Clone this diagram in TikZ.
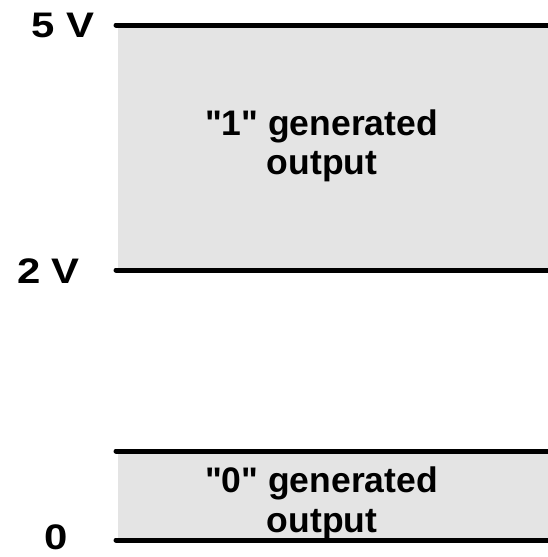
\documentclass[tikz,border=0pt]{standalone}
\usepackage{fontspec}
\setmainfont{Liberation Sans}[Ligatures=TeXOff]
\definecolor{bandgray}{HTML}{E4E4E4}
\newcommand{\widelbl}[1]{\scalebox{1.18}[1]{#1}}
\tikzset{
  level/.style={line width=5pt, line cap=round},
  band/.style={fill=bandgray, draw=none},
  lbl/.style={font=\bfseries\fontsize{35.5}{40}\selectfont, inner sep=0pt, anchor=base},
}
\begin{document}
\begin{tikzpicture}[x=1pt,y=-1pt]
\useasboundingbox (0,0) rectangle (547,557);
% bands
\fill[band] (118,25) rectangle (560,270);
\fill[band] (118,451) rectangle (560,540);
% level lines
\coordinate (l5a) at (116,25);   \coordinate (l5b) at (560,25);
\coordinate (l2a) at (116,270);  \coordinate (l2b) at (560,270);
\coordinate (l0ta) at (116,451); \coordinate (l0tb) at (560,451);
\coordinate (l0a) at (116,540);  \coordinate (l0b) at (560,540);
\draw[level] (l5a) -- (l5b);
\draw[level] (l2a) -- (l2b);
\draw[level] (l0ta) -- (l0tb);
\draw[level] (l0a) -- (l0b);
% axis labels
\node[lbl] (v5) at (63,37) {\widelbl{5 V}};
\node[lbl] (v2) at (48.5,283) {\widelbl{2 V}};
\node[lbl] (v0) at (56,549) {\widelbl{0}};
% band texts
\node[lbl] (one1) at (321.5,135) {"1" generated};
\node[lbl] (one2) at (322,174) {output};
\node[lbl] (zero1) at (321.5,492) {"0" generated};
\node[lbl] (zero2) at (322,532) {output};
\end{tikzpicture}
\end{document}
